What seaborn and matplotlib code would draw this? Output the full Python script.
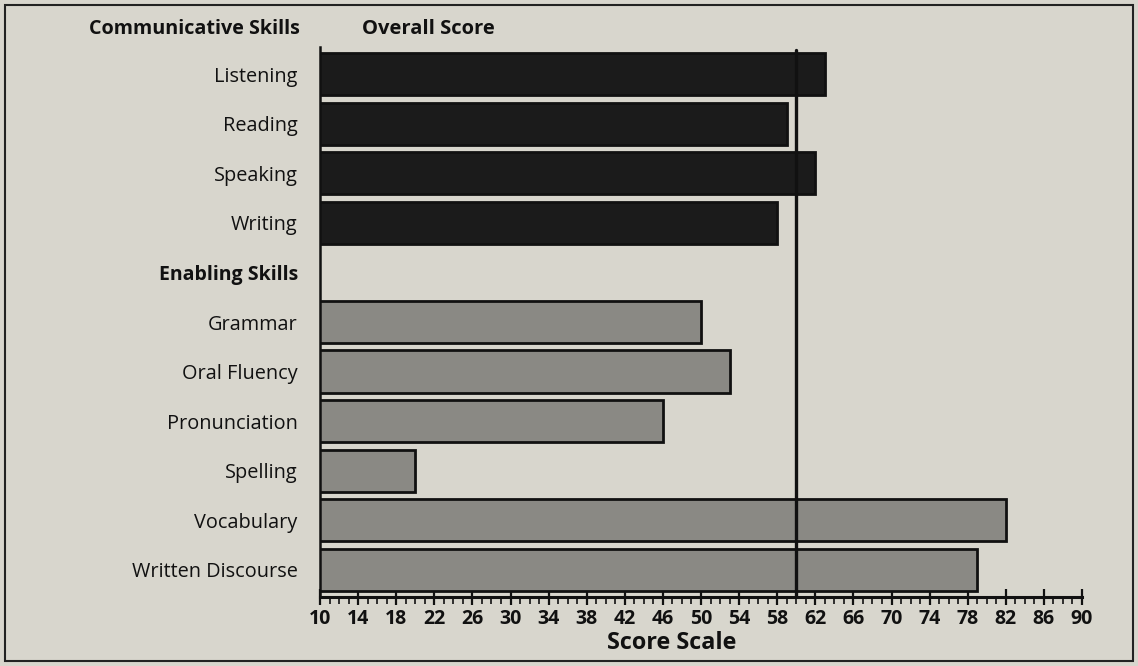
import matplotlib
matplotlib.use("Agg")
import matplotlib.pyplot as plt
import matplotlib.patches as mpatches
from matplotlib.ticker import MultipleLocator, FixedLocator
import seaborn as sns
import pandas as pd

# ---- data ----
communicative = ["Listening", "Reading", "Speaking", "Writing"]
communicative_scores = [63, 59, 62, 58]
enabling = ["Grammar", "Oral Fluency", "Pronunciation", "Spelling",
            "Vocabulary", "Written Discourse"]
enabling_scores = [50, 53, 46, 20, 82, 79]
overall_score = 60
group_header = "Enabling Skills"
x_ticks = list(range(10, 91, 4))

df = pd.DataFrame({
    "skill": communicative + enabling,
    "score": communicative_scores + enabling_scores,
    "group": ["Communicative"] * len(communicative) + ["Enabling"] * len(enabling),
})
order = communicative + [group_header] + enabling

BG = "#d8d6cd"
sns.set_theme(style="white")
plt.rcParams["font.family"] = ["Open Sans", "DejaVu Sans"]

W, H = 1138, 666
fig = plt.figure(figsize=(W / 100, H / 100), dpi=100, facecolor=BG)
ax = fig.add_axes([320 / W, 1 - 597 / H, (1082 - 320) / W, (597 - 47) / H])
ax.set_facecolor(BG)

sns.barplot(data=df, y="skill", x="score", hue="group", order=order,
            palette={"Communicative": "#1b1b1b", "Enabling": "#8b8983"},
            dodge=False, width=0.85, edgecolor="#111111", linewidth=2,
            legend=False, ax=ax)

ax.set_xlim(10, 90)
ax.set_ylim(len(order) - 0.5 + 0.05, -0.55)
ax.axvline(overall_score, color="#111111", lw=2.4, ymin=0, ymax=0.995)

for s in ["top", "right"]:
    ax.spines[s].set_visible(False)
ax.spines["left"].set_linewidth(1.8)
ax.spines["left"].set_color("#111111")
ax.spines["bottom"].set_linewidth(2.2)
ax.spines["bottom"].set_color("#111111")

ax.xaxis.set_major_locator(FixedLocator(x_ticks))
ax.xaxis.set_minor_locator(MultipleLocator(1))
ax.tick_params(axis="x", which="major", direction="inout", length=11, width=1.6,
               color="#111111", labelsize=14, pad=3, bottom=True)
ax.tick_params(axis="x", which="minor", direction="out", length=5, width=1.2,
               color="#111111", bottom=True)
for lbl in ax.get_xticklabels():
    lbl.set_fontweight("bold")
    lbl.set_color("#111111")

ax.tick_params(axis="y", which="both", length=0, pad=16, labelsize=14.3)
ax.set_yticks(range(len(order)))
ax.set_yticklabels(order)
for lbl in ax.get_yticklabels():
    lbl.set_color("#111111")
    if lbl.get_text() == group_header:
        lbl.set_fontweight("bold")
        lbl.set_fontsize(14)
    else:
        lbl.set_fontweight("medium")

ax.set_xlabel("")
ax.set_ylabel("")

fig.text(300 / W, 1 - 29 / H, "Communicative Skills", ha="right", va="center",
         fontsize=14.2, fontweight="bold", color="#111111")
fig.text(362 / W, 1 - 29 / H, "Overall Score", ha="left", va="center",
         fontsize=14.5, fontweight="bold", color="#111111")
fig.text(672 / W, 1 - 643 / H, "Score Scale", ha="center", va="center",
         fontsize=16.8, fontweight="bold", color="#111111")

fig.patches.append(mpatches.Rectangle((5 / W, 5 / H), 1 - 10 / W, 1 - 10 / H,
                                      transform=fig.transFigure, fill=False,
                                      edgecolor="#222222", lw=1.5))

fig.savefig("out.png", dpi=100, facecolor=BG)
